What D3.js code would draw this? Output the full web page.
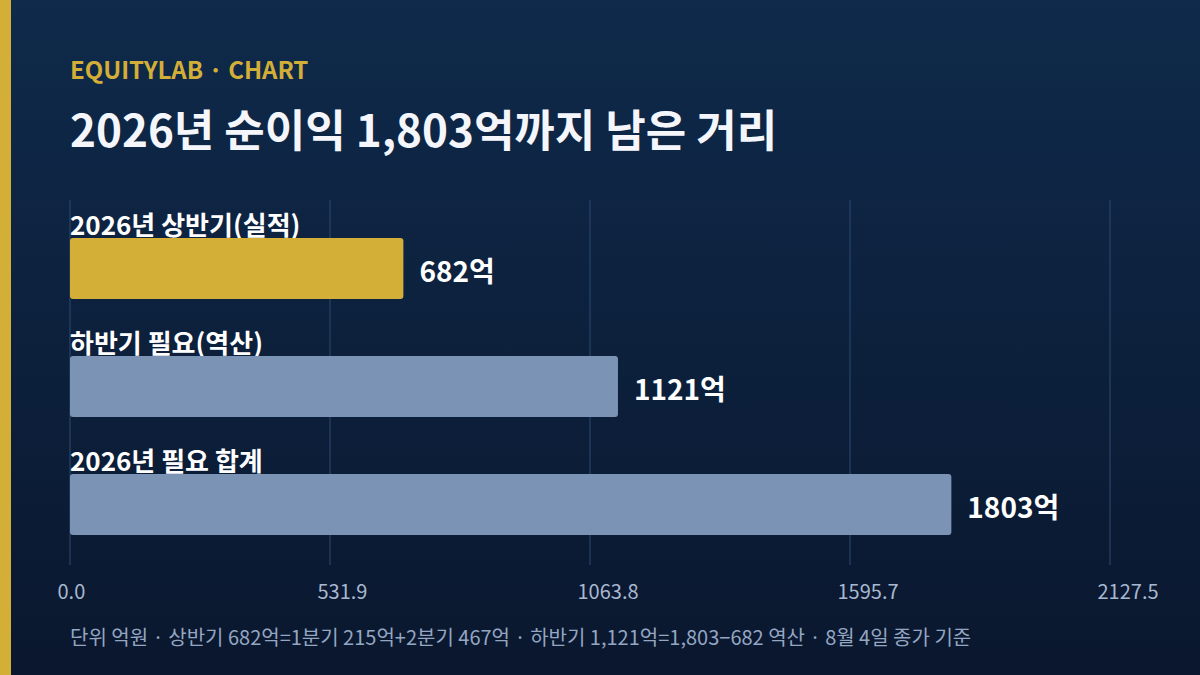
<!DOCTYPE html>
<html>
<head>
<meta charset="utf-8">
<script src="https://cdn.jsdelivr.net/npm/d3@7"></script>
<style>
  html, body { margin: 0; padding: 0; background: #0b1a33; }
  svg { display: block; font-family: "Noto Sans CJK KR", "Noto Sans", sans-serif; }
</style>
</head>
<body>
<svg id="chart" width="1200" height="675"></svg>
<script>
// data
const categories = ["2026년 상반기(실적)", "하반기 필요(역산)", "2026년 필요 합계"];
const values = [682, 1121, 1803];
const barColors = ["#d4af37", "#7b93b5", "#7b93b5"];
const tickValues = [0, 531.885, 1063.77, 1595.655, 2127.54];
const xMax = 2127.54;

const kicker = "EQUITYLAB · CHART";
const title = "2026년 순이익 1,803억까지 남은 거리";
const note = "단위 억원 · 상반기 682억=1분기 215억+2분기 467억 · 하반기 1,121억=1,803−682 역산 · 8월 4일 종가 기준";

const W = 1200, H = 675;
const left = 70, right = 1110;
const plotTop = 200, plotBottom = 565;

const svg = d3.select("#chart");

// background
const defs = svg.append("defs");
const grad = defs.append("linearGradient")
	.attr("id", "bg").attr("x1", 0).attr("y1", 0).attr("x2", 0).attr("y2", 1);
grad.append("stop").attr("offset", "0%").attr("stop-color", "#0f2a4b");
grad.append("stop").attr("offset", "100%").attr("stop-color", "#0a172e");
svg.append("rect").attr("width", W).attr("height", H).attr("fill", "url(#bg)");
svg.append("rect").attr("width", 11).attr("height", H).attr("fill", "#d4af37");

// header
svg.append("text")
	.attr("x", left).attr("y", 79)
	.attr("fill", "#d4af37")
	.style("font-size", "24px").style("font-weight", 700)
	.text(kicker);

svg.append("text")
	.attr("x", left).attr("y", 147)
	.attr("fill", "#f4f6fb")
	.style("font-size", "44px").style("font-weight", 700)
	.text(title);

// scales
const x = d3.scaleLinear().domain([0, xMax]).range([left, right]);
const y = d3.scaleBand().domain(categories).range([220, 574]).paddingInner(0);

// grid
svg.append("g").selectAll("line")
	.data(tickValues)
	.join("line")
	.attr("x1", d => x(d)).attr("x2", d => x(d))
	.attr("y1", plotTop).attr("y2", plotBottom)
	.attr("stroke", "#2c4a72").attr("stroke-width", 1);

// axis labels (left-shifted a little from each grid line, like the original)
const axis = d3.axisBottom(x).tickValues(tickValues).tickSize(0).tickFormat(d3.format(".1f"));
const gAxis = svg.append("g").attr("transform", "translate(0," + (plotBottom + 17) + ")").call(axis);
gAxis.select(".domain").remove();
gAxis.selectAll("text")
	.attr("text-anchor", "start")
	.attr("dx", -13)
	.attr("fill", "#a8b8d0")
	.style("font-size", "20px")
	.style("font-family", "'Noto Sans CJK KR', sans-serif");

// bars
const barH = 61;
const rows = svg.append("g").selectAll("g")
	.data(categories)
	.join("g")
	.attr("transform", d => "translate(0," + y(d) + ")");

rows.append("text")
	.attr("x", left).attr("y", 15)
	.attr("fill", "#ffffff")
	.style("font-size", "26px").style("font-weight", 700)
	.text(d => d);

rows.append("rect")
	.attr("x", left).attr("y", 18)
	.attr("width", (d, i) => x(values[i]) - x(0))
	.attr("height", barH)
	.attr("rx", 3).attr("ry", 3)
	.attr("fill", (d, i) => barColors[i]);

rows.append("text")
	.attr("x", (d, i) => x(values[i]) + 16)
	.attr("y", 18 + barH / 2 + 3)
	.attr("dy", "0.36em")
	.attr("fill", "#ffffff")
	.style("font-size", "28px").style("font-weight", 700)
	.text((d, i) => values[i] + "억");

// footnote
svg.append("text")
	.attr("x", left).attr("y", 645)
	.attr("fill", "#94a6c2")
	.style("font-size", "20px")
	.text(note);
</script>
</body>
</html>
